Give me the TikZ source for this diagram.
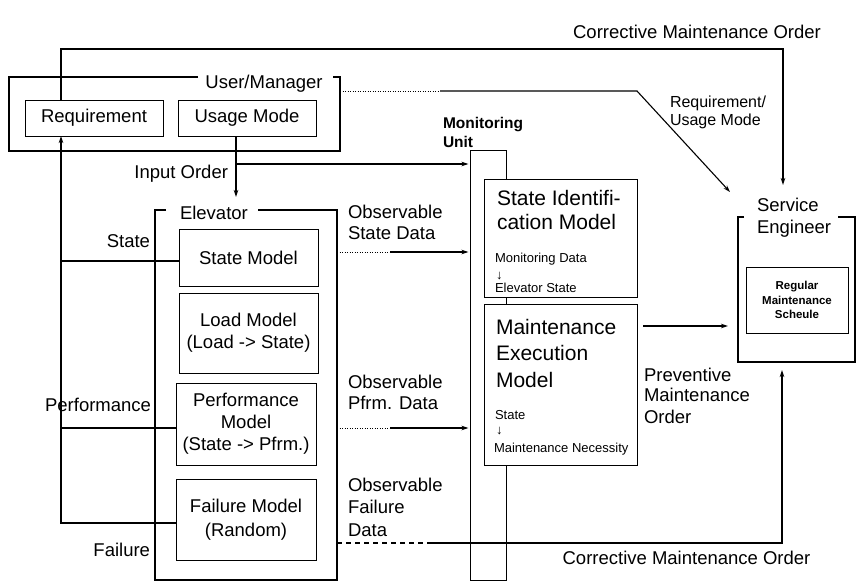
\documentclass[tikz,border=0pt]{standalone}
\usepackage{fontspec}
\setmainfont{Liberation Sans}
\usetikzlibrary{arrows.meta,calc}
\newcommand\ftnorm{\fontsize{18.5}{22}\selectfont}
\newcommand\ftbig{\fontsize{21}{26}\selectfont}
\newcommand\ftsmall{\fontsize{13}{15.5}\selectfont}
\newcommand\fttiny{\fontsize{11.5}{14.5}\selectfont\bfseries}
\newcommand\ftmid{\fontsize{16}{18}\selectfont}
\newcommand\ftunit{\fontsize{15.5}{20}\selectfont\bfseries}
\begin{document}
\begin{tikzpicture}[x=1pt,y=-1pt,
  every node/.style={inner sep=0pt, outer sep=0pt},
  box/.style={draw, line width=0.9pt, align=center, font=\ftnorm},
  frm/.style={line width=1.1pt},
  lbl/.style={font=\ftnorm, anchor=base west},
  lblr/.style={font=\ftnorm, anchor=base east},
  bigl/.style={font=\ftbig, anchor=base west},
  smll/.style={font=\ftsmall, anchor=base west},
  conn/.style={line width=1.1pt},
  arr/.style={conn, -{Stealth[length=7pt,width=4.5pt]}},
  dotl/.style={line width=1pt, dash pattern=on 1pt off 1.5pt},
  dashl/.style={line width=1.1pt, dash pattern=on 5pt off 4pt}]
\useasboundingbox (0,0) rectangle (856,582);

% ---------- User / Manager ----------
\node[minimum width=331pt, minimum height=74pt] (um) at (174.5,114) {};
\draw[frm] ($(um.north west)+(189,0)$) -- (um.north west) |- (um.south east) -- (um.north east) -- ++(-7,0);
\node[font=\ftnorm, anchor=base] (umt) at (264,88) {User/Manager};
\node[box, minimum width=138pt, minimum height=36pt] (req) at (94,118) {Requirement};
\node[box, minimum width=138pt, minimum height=36pt] (usage) at (247,118) {Usage Mode};

% ---------- Elevator ----------
\node[minimum width=182pt, minimum height=370pt] (elev) at (246,395) {};
\draw[frm] ($(elev.north west)+(11,0)$) -- (elev.north west) |- (elev.south east) -- (elev.north east) -- ++(-79,0);
\node[lbl] (elevt) at (180,219.7) {Elevator};
\node[box, minimum width=139pt, minimum height=57pt] (state) at (248.5,257.5) {State Model};
\node[box, minimum width=139pt, minimum height=80pt] (load) at (248.5,333) {Load Model\\(Load -> State)};
\node[box, minimum width=140pt, minimum height=82pt] (perf) at (246,424) {Performance\\Model\\(State -> Pfrm.)};
\node[box, minimum width=140pt, minimum height=81pt, font=\fontsize{18.5}{23.5}\selectfont] (fail) at (246,519.5) {Failure Model\\(Random)};

% ---------- Monitoring unit ----------
\node[font=\ftunit, anchor=base west] (mu1) at (443,128.6) {Monitoring};
\node[font=\ftunit, anchor=base west] (mu2) at (443,147.6) {Unit};
\node[draw, line width=1pt, minimum width=36pt, minimum height=430pt] (mon) at (488,365) {};
\node[draw, fill=white, line width=1pt, minimum width=153pt, minimum height=118pt] (sim) at (560.5,238) {};
\node[draw, fill=white, line width=1pt, minimum width=153pt, minimum height=161pt] (mem) at (560.5,384.5) {};
\node[bigl] (sim1) at (497,205.6) {State Identifi-};
\node[bigl] (sim2) at (497,229.6) {cation Model};
\node[smll] (sim3) at (495,262.7) {Monitoring Data};
\node[smll] (sim4) at (496,279.7) {↓};
\node[smll] (sim5) at (495,292.7) {Elevator State};
\node[bigl] (mem1) at (496,334.6) {Maintenance};
\node[bigl] (mem2) at (496,360.6) {Execution};
\node[bigl] (mem3) at (496,387.6) {Model};
\node[smll] (mem4) at (495,419.7) {State};
\node[smll] (mem5) at (496,434.7) {↓};
\node[smll] (mem6) at (494,452.7) {Maintenance Necessity};

% ---------- Service engineer ----------
\node[minimum width=117pt, minimum height=145pt] (se) at (796.5,289.5) {};
\draw[frm] ($(se.north west)+(6,0)$) -- (se.north west) |- (se.south east) -- (se.north east) -- ++(-17,0);
\node[lbl] (se1) at (757,211.7) {Service};
\node[lbl] (se2) at (757,233.7) {Engineer};
\node[box, font=\fttiny, minimum width=102pt, minimum height=66pt] (reg) at (797,300) {Regular\\Maintenance\\Scheule};

% ---------- coordinates ----------
\coordinate (fbx) at ($(req.south west)+(36,0)$);
\coordinate (rqt) at ($(req.north west)+(36,0)$);
\coordinate (cmc) at (783,49);
\coordinate (cmend) at (783,185);
\coordinate (sp) at ($(state.west)+(0,3.5)$);
\coordinate (pp) at ($(perf.west)+(0,4)$);
\coordinate (fp) at ($(fail.west)+(0,3.5)$);
\coordinate (uo) at ($(usage.south)+(-11,0)$);
\coordinate (inend) at (236,197);
\coordinate (inbr) at (236,164);
\coordinate (os1) at (337,252);
\coordinate (os2) at (390,252);
\coordinate (op1) at (337,428);
\coordinate (op2) at (390,428);
\coordinate (fd1) at (337,543);
\coordinate (fd2) at (427,543);
\coordinate (fdend) at (782,370);
\coordinate (ru1) at (340,91);
\coordinate (ru2) at (440,91);
\coordinate (ru3) at (637,91);
\coordinate (ruend) at (730,192);
\coordinate (pv1) at (643,326);

% ---------- connectors ----------
\draw[arr] (rqt) |- (cmc) -- (cmend);
\draw[arr] (fp) -| (fbx);
\draw[conn] (sp) -- (sp -| fbx);
\draw[conn] (pp) -- (pp -| fbx);
\draw[arr] (uo) -- (inend);
\draw[arr, shorten >=1.5pt] (inbr) -- (inbr -| mon.west);
\draw[dotl] (os1) -- (os2);
\draw[arr, shorten >=1.5pt] (os2) -- (os2 -| mon.west);
\draw[dotl] (op1) -- (op2);
\draw[arr, shorten >=1.5pt] (op2) -- (op2 -| mon.west);
\draw[dashl] (fd1) -- (fd2);
\draw[arr] (fd2) -| (fdend);
\draw[dotl] (ru1) -- (ru2);
\draw[arr] (ru2) -- (ru3) -- (ruend);
\draw[arr, shorten >=10pt] (pv1) -- (pv1 -| se.west);

% ---------- labels ----------
\node[font=\ftnorm, anchor=base] (cmo1) at (697,38.7) {Corrective Maintenance Order};
\node[font=\ftnorm, anchor=base] (cmo2) at (686.5,564.7) {Corrective Maintenance Order};
\node[font=\ftmid, anchor=base west] (ru_l1) at (670,107.8) {Requirement/};
\node[font=\ftmid, anchor=base west] (ru_l2) at (670,125.8) {Usage Mode};
\node[lblr] (io) at (228,178.7) {Input Order};
\node[lblr] (lst) at (150,247.7) {State};
\node[lblr] (lpf) at (151,411.7) {Performance};
\node[lblr] (lfl) at (150,556.7) {Failure};
\node[lbl] (ob1) at (348,218.7) {Observable};
\node[lbl] (ob2) at (348,239.7) {State Data};
\node[lbl] (ob3) at (348,388.7) {Observable};
\node[lbl] (ob4) at (348,409.7) {Pfrm. Data};
\node[lbl] (ob5) at (348,491.7) {Observable};
\node[lbl] (ob6) at (348,513.7) {Failure};
\node[lbl] (ob7) at (348,536.7) {Data};
\node[lbl] (pv_1) at (644,381.7) {Preventive};
\node[lbl] (pv_2) at (644,401.7) {Maintenance};
\node[lbl] (pv_3) at (644,423.7) {Order};
\end{tikzpicture}
\end{document}
